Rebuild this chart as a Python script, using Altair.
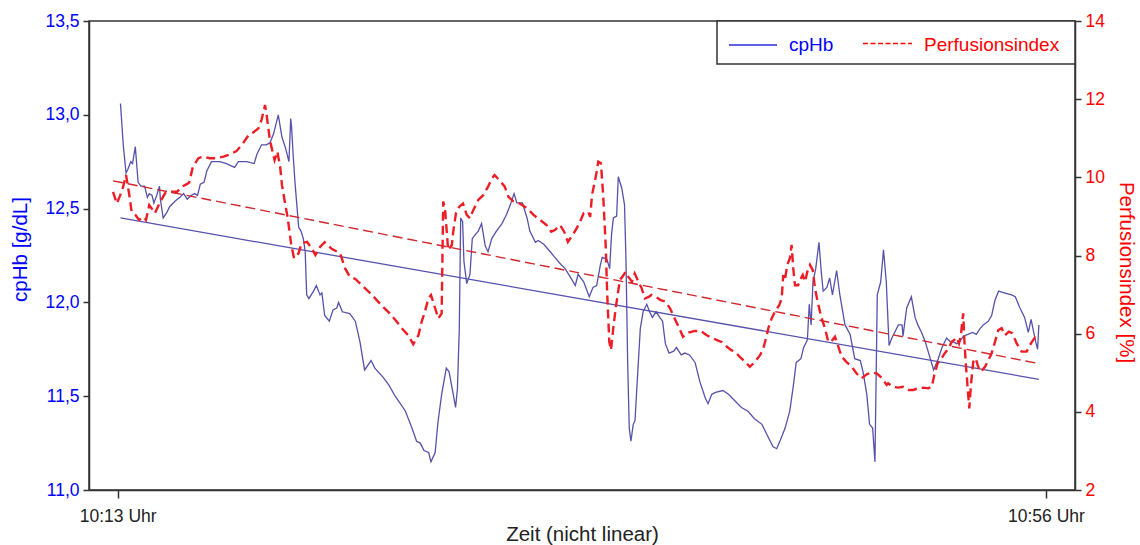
import altair as alt
import pandas as pd

# ---------------- data (position along the non-linear time axis 0..100, value) ----------------
cphb = [
    (0.3, 13.06), (0.6, 12.84), (0.9, 12.69), (1.1, 12.71), (1.4, 12.75), (1.6, 12.74), (1.9, 12.83),
    (2.2, 12.64), (2.5, 12.62), (2.9, 12.62), (3.2, 12.56), (3.4, 12.58), (3.7, 12.57), (3.9, 12.53),
    (4.2, 12.57), (4.5, 12.62), (4.6, 12.55), (4.9, 12.45), (5.3, 12.48), (5.6, 12.51), (6.2, 12.54),
    (6.7, 12.56), (7.1, 12.58), (7.5, 12.55), (7.9, 12.57), (8.3, 12.58), (8.6, 12.57), (8.9, 12.63),
    (9.3, 12.64), (9.6, 12.70), (10.1, 12.75), (11.0, 12.75), (11.7, 12.74), (12.6, 12.72), (13.0, 12.75),
    (13.9, 12.75), (14.7, 12.74), (15.0, 12.79), (15.5, 12.84), (16.0, 12.84), (16.4, 12.85), (16.8, 12.90),
    (17.3, 13.00), (17.7, 12.88), (18.1, 12.82), (18.45, 12.75), (18.64, 12.98), (18.74, 12.93), (18.9, 12.79),
    (19.1, 12.64), (19.3, 12.52), (19.5, 12.40), (19.75, 12.38), (20.0, 12.34), (20.2, 12.27), (20.36, 12.04),
    (20.6, 12.02), (21.1, 12.06), (21.4, 12.09), (21.8, 12.04), (22.0, 12.05), (22.3, 11.93), (22.8, 11.90),
    (23.2, 11.96), (23.6, 11.97), (23.8, 12.00), (24.2, 11.95), (25.0, 11.94), (25.6, 11.90), (26.1, 11.79),
    (26.6, 11.64), (27.3, 11.69), (27.7, 11.65), (28.6, 11.60), (29.2, 11.56), (29.9, 11.50), (31.0, 11.42),
    (31.7, 11.33), (32.2, 11.26), (32.6, 11.25), (33.0, 11.21), (33.5, 11.20), (33.75, 11.15), (34.2, 11.20),
    (34.5, 11.36), (34.9, 11.51), (35.4, 11.65), (35.7, 11.63), (36.15, 11.51), (36.4, 11.44), (36.6, 11.54),
    (36.8, 11.86), (36.95, 12.45), (37.16, 12.43), (37.3, 12.22), (37.6, 12.10), (37.95, 12.15), (38.2, 12.34),
    (38.5, 12.36), (38.85, 12.38), (39.2, 12.42), (39.6, 12.30), (39.9, 12.27), (40.3, 12.34), (40.8, 12.38),
    (41.4, 12.42), (41.9, 12.47), (42.3, 12.52), (42.7, 12.58), (43.0, 12.53), (43.6, 12.53), (44.1, 12.45),
    (44.4, 12.38), (45.0, 12.32), (45.3, 12.33), (45.9, 12.31), (46.6, 12.27), (47.1, 12.24), (47.6, 12.21),
    (48.2, 12.18), (48.7, 12.14), (49.3, 12.09), (49.6, 12.15), (50.2, 12.11), (50.8, 12.03), (51.2, 12.08),
    (51.6, 12.09), (52.0, 12.20), (52.2, 12.24), (52.7, 12.23), (53.0, 12.18), (53.2, 12.36), (53.4, 12.45),
    (53.75, 12.46), (53.93, 12.67), (54.3, 12.61), (54.6, 12.52), (54.76, 12.22), (54.94, 11.68), (55.11, 11.33),
    (55.29, 11.26), (55.54, 11.35), (55.73, 11.37), (55.97, 11.58), (56.3, 11.86), (56.6, 11.95), (57.0, 11.99),
    (57.3, 11.95), (57.6, 11.92), (58.0, 11.95), (58.4, 11.92), (58.7, 11.90), (59.0, 11.78), (59.4, 11.73),
    (59.9, 11.74), (60.2, 11.76), (60.7, 11.72), (61.1, 11.73), (61.6, 11.72), (62.2, 11.68), (62.7, 11.58),
    (63.3, 11.49), (63.6, 11.46), (64.0, 11.51), (64.4, 11.52), (65.2, 11.53), (65.8, 11.51), (66.4, 11.48),
    (67.2, 11.44), (67.9, 11.42), (68.6, 11.38), (69.4, 11.35), (70.1, 11.28), (70.6, 11.23), (71.0, 11.22),
    (71.5, 11.28), (71.9, 11.33), (72.4, 11.42), (72.8, 11.56), (73.1, 11.68), (73.6, 11.70), (73.9, 11.76),
    (74.3, 11.80), (74.5, 11.99), (74.7, 11.88), (74.9, 12.11), (75.2, 12.18), (75.55, 12.32), (75.8, 12.16),
    (76.0, 12.06), (76.4, 12.08), (76.7, 12.13), (77.0, 12.04), (77.45, 12.17), (77.8, 12.04), (78.35, 11.88),
    (78.9, 11.83), (79.4, 11.70), (80.0, 11.69), (80.3, 11.63), (80.7, 11.51), (81.0, 11.35), (81.33, 11.33),
    (81.58, 11.15), (81.83, 12.04), (82.2, 12.11), (82.5, 12.28), (82.8, 12.11), (83.1, 11.77), (83.4, 11.81),
    (83.7, 11.84), (84.1, 11.88), (84.5, 11.88), (84.6, 11.82), (85.0, 11.97), (85.5, 12.03), (85.9, 11.92),
    (86.2, 11.88), (86.6, 11.84), (87.0, 11.79), (87.3, 11.74), (87.9, 11.64), (88.4, 11.70), (88.8, 11.76),
    (89.3, 11.81), (89.7, 11.79), (90.0, 11.79), (90.4, 11.78), (90.7, 11.79), (91.1, 11.82), (91.6, 11.83),
    (92.1, 11.84), (92.5, 11.83), (92.9, 11.86), (93.25, 11.88), (93.8, 11.90), (94.15, 11.93), (94.5, 12.01),
    (94.9, 12.06), (95.6, 12.05), (96.3, 12.04), (96.7, 12.03), (97.2, 11.97), (97.7, 11.92), (98.1, 11.84),
    (98.4, 11.91), (98.6, 11.86), (98.9, 11.79), (99.1, 11.75), (99.24, 11.88),
]

perfusion = [
    (-0.5, 9.63), (-0.1, 9.33), (0.2, 9.50), (0.5, 9.68), (0.9, 10.06), (1.25, 9.55), (1.5, 9.12), (1.9, 9.04),
    (2.3, 8.91), (2.8, 8.99), (3.05, 8.91), (3.4, 9.29), (3.8, 9.16), (4.0, 9.08), (4.6, 9.38), (5.1, 9.59),
    (5.6, 9.63), (6.4, 9.63), (6.9, 9.76), (7.4, 9.82), (7.7, 9.87), (8.1, 10.27), (8.7, 10.49), (9.2, 10.53),
    (9.9, 10.49), (10.7, 10.49), (11.4, 10.53), (12.1, 10.59), (12.8, 10.67), (13.5, 10.87), (14.1, 11.08),
    (14.6, 11.15), (15.15, 11.25), (15.5, 11.47), (15.87, 11.85), (16.05, 11.59), (16.4, 10.95), (16.9, 10.44),
    (17.2, 10.66), (17.5, 10.27), (17.7, 9.80), (18.0, 9.38), (18.3, 8.99), (18.7, 8.27), (19.0, 7.93),
    (19.5, 8.06), (19.8, 8.31), (20.4, 8.35), (20.9, 8.18), (21.3, 8.01), (21.8, 8.22), (22.3, 8.34),
    (23.05, 8.17), (23.95, 8.06), (24.5, 7.67), (25.0, 7.46), (25.6, 7.40), (26.3, 7.24), (27.4, 6.99),
    (28.4, 6.73), (29.3, 6.52), (30.05, 6.31), (30.6, 6.14), (31.3, 5.96), (31.84, 5.73), (32.4, 5.96),
    (32.75, 6.31), (33.1, 6.56), (33.46, 6.90), (33.75, 6.99), (34.2, 6.65), (34.54, 6.39), (34.9, 6.52),
    (35.07, 9.38), (35.26, 9.21), (35.6, 8.14), (36.0, 8.27), (36.15, 8.61), (36.44, 9.08), (36.8, 9.25),
    (37.2, 9.33), (37.6, 9.04), (37.95, 8.95), (38.3, 9.16), (38.85, 9.42), (39.4, 9.55), (39.9, 9.76),
    (40.3, 9.97), (40.6, 10.06), (41.1, 9.93), (41.7, 9.76), (42.1, 9.50), (42.6, 9.39), (43.3, 9.33),
    (44.1, 9.21), (44.8, 9.04), (45.5, 8.91), (46.2, 8.78), (46.7, 8.61), (47.1, 8.65), (47.65, 8.78),
    (48.1, 8.61), (48.5, 8.35), (49.0, 8.52), (49.45, 8.70), (49.8, 8.86), (50.2, 9.08), (50.7, 9.12),
    (50.9, 8.99), (51.1, 9.55), (51.4, 9.89), (51.6, 10.14), (51.77, 10.40), (52.06, 10.36), (52.3, 9.55),
    (52.57, 8.27), (52.74, 6.99), (52.96, 5.79), (53.14, 5.58), (53.39, 6.14), (53.65, 6.65), (53.86, 6.99),
    (54.1, 7.37), (54.5, 7.50), (54.7, 7.58), (55.0, 7.46), (55.4, 7.33), (55.7, 7.54), (56.1, 7.33),
    (56.45, 7.16), (56.8, 6.90), (57.2, 6.94), (57.5, 6.99), (58.1, 6.92), (58.5, 6.86), (59.0, 6.82),
    (59.5, 6.65), (60.0, 6.39), (60.5, 6.14), (60.9, 5.92), (61.5, 6.03), (62.2, 6.07), (62.8, 6.07),
    (63.45, 5.96), (64.0, 5.90), (64.5, 5.84), (65.1, 5.78), (65.6, 5.67), (66.1, 5.58), (66.5, 5.54),
    (67.0, 5.41), (67.6, 5.28), (68.1, 5.15), (68.65, 5.28), (69.2, 5.45), (69.55, 5.62), (69.84, 5.88),
    (70.1, 6.14), (70.45, 6.39), (70.8, 6.56), (71.27, 6.73), (71.53, 6.90), (71.7, 7.50), (71.88, 7.37),
    (72.13, 7.76), (72.42, 7.93), (72.6, 8.27), (72.78, 7.67), (72.96, 7.24), (73.3, 7.24), (73.5, 7.37),
    (73.8, 7.50), (74.04, 7.33), (74.29, 7.58), (74.58, 7.76), (74.87, 7.63), (75.12, 7.16), (75.37, 6.86),
    (75.66, 6.56), (75.95, 6.31), (76.2, 6.14), (76.55, 5.79), (76.91, 5.81), (77.27, 5.92), (77.52, 5.75),
    (78.0, 5.41), (78.5, 5.28), (79.1, 5.15), (79.6, 4.98), (80.15, 4.86), (80.7, 4.96), (81.2, 5.01),
    (81.8, 4.98), (82.3, 4.87), (82.84, 4.69), (83.0, 4.73), (83.55, 4.64), (84.1, 4.62), (84.6, 4.64),
    (85.2, 4.56), (85.7, 4.56), (86.2, 4.60), (86.8, 4.62), (87.3, 4.60), (87.7, 4.64), (87.97, 4.94),
    (88.33, 5.24), (88.76, 5.37), (89.1, 5.50), (89.5, 5.62), (89.84, 5.79), (90.12, 5.84), (90.38, 5.90),
    (90.63, 5.75), (90.84, 5.96), (90.98, 6.31), (91.09, 6.52), (91.2, 5.88), (91.35, 5.28), (91.57, 4.60),
    (91.74, 4.09), (91.92, 4.69), (92.17, 5.28), (92.43, 5.37), (92.64, 5.20), (92.89, 5.03), (93.14, 5.07),
    (93.43, 5.15), (93.79, 5.32), (94.15, 5.50), (94.51, 5.79), (94.87, 6.09), (95.23, 6.14), (95.58, 5.96),
    (96.0, 6.05), (96.37, 6.01), (96.85, 5.75), (97.38, 5.54), (97.92, 5.54), (98.38, 5.75), (98.81, 5.90),
    (99.17, 5.84),
]

# linear trend lines (start / end)
cphb_trend_pos = [0.3, 99.24]
cphb_trend_val = [12.45, 11.59]
perf_trend_pos = [-0.5, 99.1]
perf_trend_val = [9.91, 5.24]

x_tick_pos = [0, 100]
x_tick_labels = ["10:13 Uhr", "10:56 Uhr"]
left_ticks = [11.0, 11.5, 12.0, 12.5, 13.0, 13.5]
right_ticks = [2, 4, 6, 8, 10, 12, 14]
legend_labels = ["cpHb", "Perfusionsindex"]

# ---------------- styling ----------------
FONT = "Liberation Sans"
W, H = 986, 469
AXIS_COL = "#333333"
BLUE = "#0000ff"
RED = "#ff0000"
BLUE_LINE = "#5652aa"
RED_LINE = "#ee1c25"
RED_TREND = "#d0262c"
TICK_FS = 17.5

df_c = pd.DataFrame(cphb, columns=["t", "v"])
df_p = pd.DataFrame(perfusion, columns=["t", "v"])
df_ct = pd.DataFrame({"t": cphb_trend_pos, "v": cphb_trend_val})
df_pt = pd.DataFrame({"t": perf_trend_pos, "v": perf_trend_val})
df_leg = pd.DataFrame({"label": legend_labels, "idx": [0, 1]})

x_label_expr = f"{x_tick_labels}[indexof({x_tick_pos}, datum.value)]"

xenc = alt.X(
    "t:Q",
    scale=alt.Scale(domain=[-3.09, 103.13], nice=False, zero=False),
    axis=alt.Axis(
        values=x_tick_pos, labelExpr=x_label_expr, grid=False,
        domainColor=AXIS_COL, domainWidth=1.5, tickColor=AXIS_COL, tickWidth=1.5, tickSize=8,
        labelFont=FONT, labelFontSize=TICK_FS, labelColor="#222222", labelPadding=9,
        title="Zeit (nicht linear)", titleFont=FONT, titleFontSize=20.5, titleFontWeight="normal",
        titleColor="#222222", titleBaseline="alphabetic", titleY=50,
    ),
)

yleft = alt.Y(
    "v:Q",
    scale=alt.Scale(domain=[11.0, 13.5], nice=False, zero=False),
    axis=alt.Axis(
        orient="left", values=left_ticks, grid=False,
        labelExpr="replace(format(datum.value, '.1f'), '.', ',')",
        domainColor=AXIS_COL, domainWidth=1.5, tickColor=AXIS_COL, tickWidth=1.5, tickSize=6,
        labelFont=FONT, labelFontSize=TICK_FS, labelColor=BLUE, labelPadding=4,
        title="cpHb [g/dL]", titleFont=FONT, titleFontSize=20.5, titleFontWeight="normal",
        titleColor=BLUE, titleAngle=270, titleBaseline="middle", titleX=-69, titleY=228,
    ),
)

yright = alt.Y(
    "v:Q",
    scale=alt.Scale(domain=[2, 14], nice=False, zero=False),
    axis=alt.Axis(
        orient="right", values=right_ticks, grid=False, format="d",
        domainColor=AXIS_COL, domainWidth=1.5, tickColor=AXIS_COL, tickWidth=1.5, tickSize=6,
        labelFont=FONT, labelFontSize=TICK_FS, labelColor=RED, labelPadding=4,
        title="Perfusionsindex [%]", titleFont=FONT, titleFontSize=20.5, titleFontWeight="normal",
        titleColor=RED, titleAngle=90, titleBaseline="middle", titleX=50, titleY=251,
    ),
)

blue_line = alt.Chart(df_c).mark_line(color=BLUE_LINE, strokeWidth=1.3).encode(x=xenc, y=yleft)
blue_trend = alt.Chart(df_ct).mark_line(color=BLUE_LINE, strokeWidth=1.3).encode(x=xenc, y=yleft)
blue_group = alt.layer(blue_line, blue_trend)

red_line = alt.Chart(df_p).mark_line(color=RED_LINE, strokeWidth=2.4, strokeDash=[9, 5]).encode(x=xenc, y=yright)
red_trend = alt.Chart(df_pt).mark_line(color=RED_TREND, strokeWidth=1.4, strokeDash=[10, 5]).encode(x=xenc, y=yright)
red_group = alt.layer(red_line, red_trend)

# legend box (top right, inside the plot)
leg_box = alt.Chart(df_leg.iloc[[0]]).mark_rect(fill="white", stroke=AXIS_COL, strokeWidth=1.5).encode(
    x=alt.value(628), x2=alt.value(W), y=alt.value(0), y2=alt.value(43)
)
leg_blue = alt.Chart(df_leg.iloc[[0]]).mark_rule(color="#2a2ae0", strokeWidth=1.6).encode(
    x=alt.value(640), x2=alt.value(688), y=alt.value(24)
)
leg_red = alt.Chart(df_leg.iloc[[1]]).mark_rule(color=RED, strokeWidth=1.4, strokeDash=[5, 2.5]).encode(
    x=alt.value(774), x2=alt.value(823), y=alt.value(22.5)
)
leg_txt_blue = alt.Chart(df_leg.iloc[[0]]).mark_text(
    align="left", baseline="middle", font=FONT, fontSize=19, color=BLUE
).encode(x=alt.value(700), y=alt.value(24), text="label:N")
leg_txt_red = alt.Chart(df_leg.iloc[[1]]).mark_text(
    align="left", baseline="middle", font=FONT, fontSize=19, color=RED
).encode(x=alt.value(835), y=alt.value(24), text="label:N")
legend_group = alt.layer(leg_box, leg_blue, leg_red, leg_txt_blue, leg_txt_red)

chart = (
    alt.layer(blue_group, red_group, legend_group)
    .resolve_scale(y="independent")
    .properties(
        width=W, height=H,
        padding={"left": 89, "top": 21, "right": 65, "bottom": 55},
        autosize=alt.AutoSizeParams(type="none"),
        background="white",
    )
    .configure_view(stroke=AXIS_COL, strokeWidth=1.5)
)

chart.save("out.html", embed_options={"renderer": "svg", "actions": False})
